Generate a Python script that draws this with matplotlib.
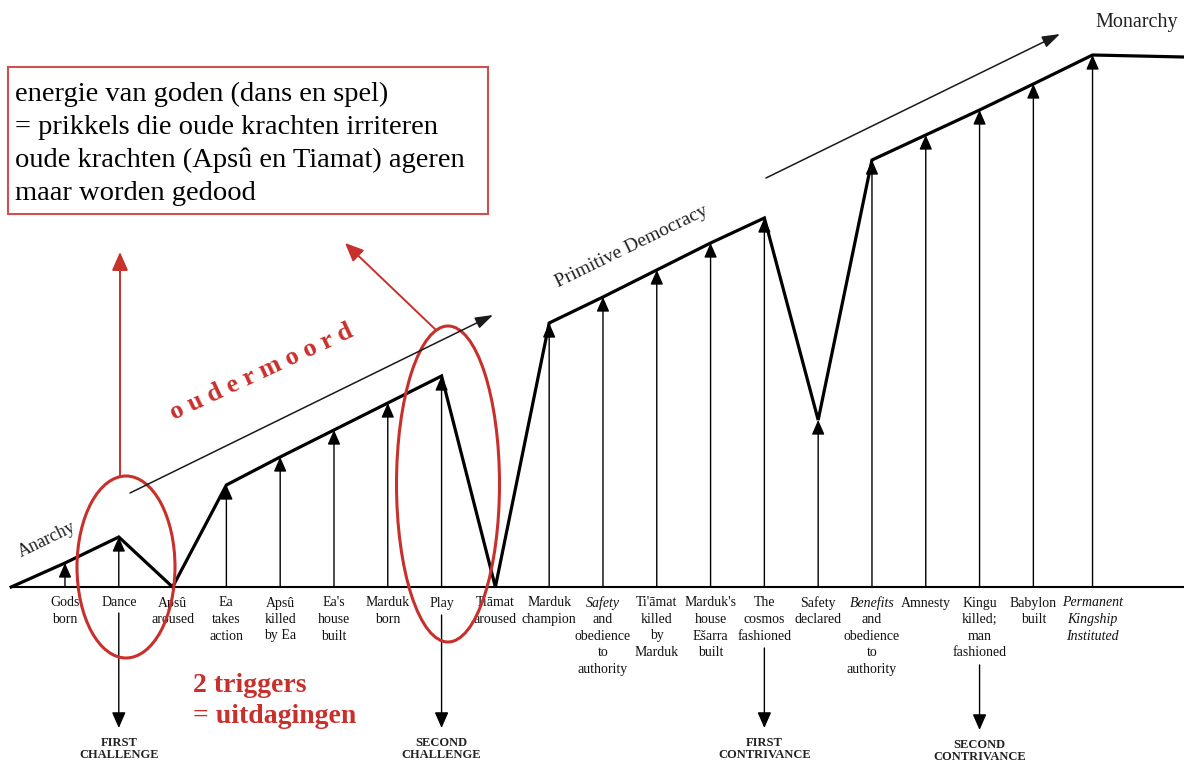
import numpy as np
import matplotlib
matplotlib.use("Agg")
import matplotlib.pyplot as plt
from matplotlib.patches import Ellipse, Rectangle

plt.rcParams['font.family'] = ['Liberation Serif', 'DejaVu Serif']

# events along the baseline (index positions) and their level above the baseline
event_x = [1, 2, 3, 4, 5, 6, 7, 8, 9, 10, 11, 12, 13, 14, 15, 16, 17, 18, 19, 20.1]
event_level = [24, 50, 0, 102, 130, 157, 184, 211, 0, 264, 290, 317, 344, 369,
               167, 427, 452, 477, 503, 532]
start_x, start_level = 0, 0
end_x, end_level = 21.8, 530

event_labels = [
    "Gods\nborn", "Dance", "Apsû\naroused", "Ea\ntakes\naction",
    "Apsû\nkilled\nby Ea", "Ea's\nhouse\nbuilt", "Marduk\nborn", "Play",
    "Tiāmat\naroused", "Marduk\nchampion", "Safety\nand\nobedience\nto\nauthority",
    "Ti'āmat\nkilled\nby\nMarduk", "Marduk's\nhouse\nEšarra\nbuilt",
    "The\ncosmos\nfashioned", "Safety\ndeclared",
    "Benefits\nand\nobedience\nto\nauthority", "Amnesty",
    "Kingu\nkilled;\nman\nfashioned", "Babylon\nbuilt",
    "Permanent\nKingship\nInstituted",
]
# number of italic lines (from the top) in each label
italic_lines = {10: 1, 15: 1, 19: 3}

# challenges / contrivances hanging below certain events
turn_events = [1, 7, 13, 17]
turn_labels = ["FIRST\nCHALLENGE", "SECOND\nCHALLENGE",
               "FIRST\nCONTRIVANCE", "SECOND\nCONTRIVANCE"]
turn_from = [-26, -28, -61, -78]
turn_to = [-141, -141, -141, -143]

RED = '#c8302c'

fig = plt.figure(figsize=(11.84, 7.65), dpi=100)
ax = fig.add_axes([0, 0, 1, 1])
ax.set_xlim(-0.208, 21.80)
ax.set_ylim(-178, 587)
ax.axis('off')

# baseline
ax.plot([start_x, end_x], [0, 0], color='black', lw=1.5, zorder=2)

# main path
xs = [start_x] + event_x + [end_x]
ys = [start_level] + event_level + [end_level]
ax.plot(xs, ys, color='black', lw=2.3, solid_joinstyle='miter', zorder=4)

# vertical arrows from baseline to each event
for x, lv in zip(event_x, event_level):
    if lv <= 0:
        continue
    ax.annotate('', xy=(x, lv), xytext=(x, 0),
                arrowprops=dict(arrowstyle='-|>,head_length=0.8,head_width=0.35',
                                lw=1.0, color='black', shrinkA=0, shrinkB=0,
                                mutation_scale=11), zorder=3)

# labels under the baseline
line_h = 16.5
for i, (x, lab) in enumerate(zip(event_x, event_labels)):
    n_it = italic_lines.get(i, 0)
    for k, line in enumerate(lab.split("\n")):
        ax.text(x, -16 - k * line_h, line, ha='center', va='center',
                fontsize=10, style='italic' if k < n_it else 'normal',
                color='#111111')

# down arrows to challenges / contrivances
for ei, lab, y0, y1 in zip(turn_events, turn_labels, turn_from, turn_to):
    x = event_x[ei]
    ax.annotate('', xy=(x, y1), xytext=(x, y0),
                arrowprops=dict(arrowstyle='-|>,head_length=0.8,head_width=0.35',
                                lw=1.0, color='black', shrinkA=0, shrinkB=0,
                                mutation_scale=12))
    ax.text(x, y1 - 9, lab, ha='center', va='top', fontsize=9,
            fontweight='bold', color='#222222', linespacing=1.05)

# overlay in pixel coordinates for annotations
ov = fig.add_axes([0, 0, 1, 1], zorder=5)
ov.set_xlim(0, 1184)
ov.set_ylim(765, 0)
ov.axis('off')
ov.patch.set_alpha(0)

# trend arrows
for p0, p1 in [((130, 493), (493, 315)), ((766, 178), (1060, 34))]:
    ov.annotate('', xy=p1, xytext=p0,
                arrowprops=dict(arrowstyle='-|>,head_length=0.9,head_width=0.3',
                                lw=1.1, color='#1a1a1a', shrinkA=0, shrinkB=0,
                                mutation_scale=12))

ov.text(47, 540, "Anarchy", rotation=26, ha='center', va='center',
        fontsize=13, color='#222222', rotation_mode='anchor')
ov.text(632, 247, "Primitive Democracy", rotation=26, ha='center', va='center',
        fontsize=14, color='#222222', rotation_mode='anchor')
ov.text(1137, 22, "Monarchy", ha='center', va='center', fontsize=14.5,
        color='#222222')

# red annotations
ov.add_patch(Ellipse((126, 567), 98, 182, fill=False, ec=RED, lw=2.2))
ov.add_patch(Ellipse((448, 484), 103, 316, fill=False, ec=RED, lw=2.2))
ov.annotate('', xy=(120, 252), xytext=(120, 476),
            arrowprops=dict(arrowstyle='-|>,head_length=0.8,head_width=0.35',
                            lw=1.4, color=RED, shrinkA=0, shrinkB=0,
                            mutation_scale=14))
ov.annotate('', xy=(345, 243), xytext=(436, 330),
            arrowprops=dict(arrowstyle='-|>,head_length=0.8,head_width=0.35',
                            lw=1.4, color=RED, shrinkA=0, shrinkB=0,
                            mutation_scale=14))

ov.text(262, 372, "o u d e r m o o r d", rotation=25, ha='center', va='center',
        fontsize=19, fontweight='bold', color=RED, rotation_mode='anchor')
ov.text(193, 701, "2 triggers\n= uitdagingen", ha='left', va='center',
        fontsize=20, fontweight='bold', color=RED, linespacing=1.35)

ov.add_patch(Rectangle((8, 67), 480, 147, fill=False, ec='#d05050', lw=1.5))
ov.text(15, 144, "energie van goden (dans en spel)\n"
                 "= prikkels die oude krachten irriteren\n"
                 "oude krachten (Apsû en Tiamat) ageren\n"
                 "maar worden gedood",
        ha='left', va='center', fontsize=20.5, color='black', linespacing=1.4)

fig.savefig("out.png", dpi=100)
